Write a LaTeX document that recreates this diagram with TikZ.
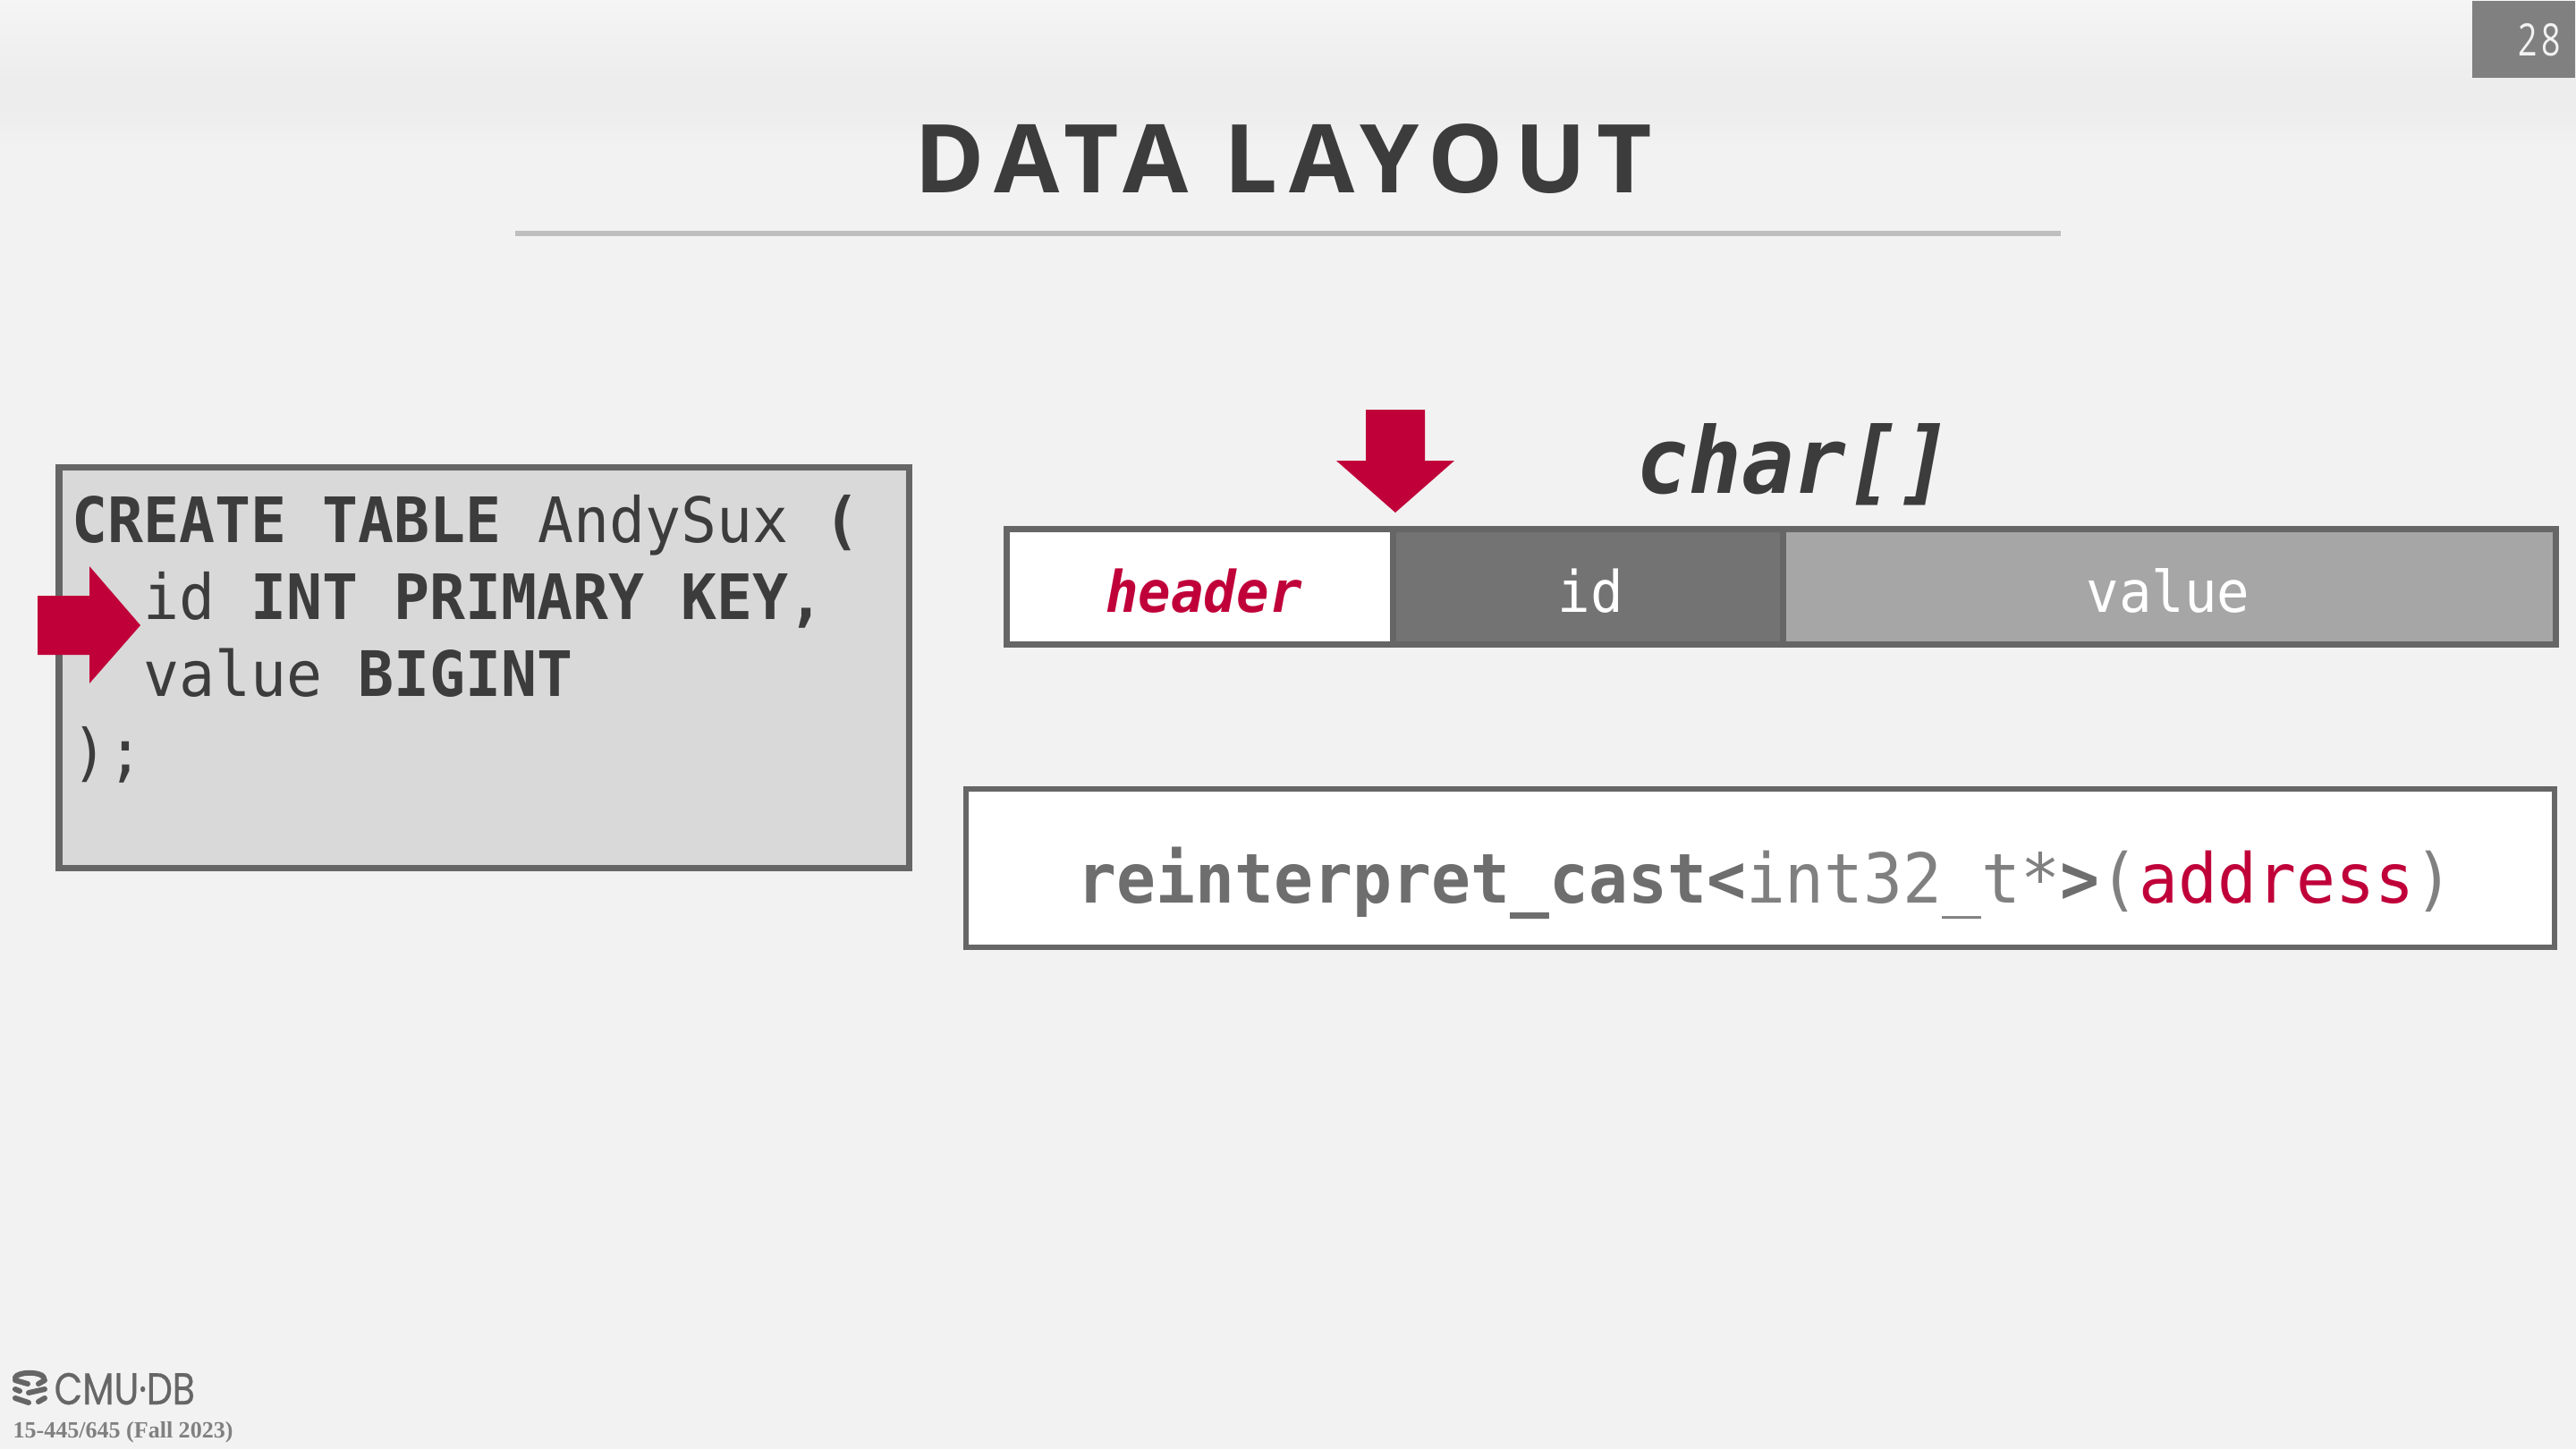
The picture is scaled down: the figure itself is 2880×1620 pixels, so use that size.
\documentclass[tikz,border=0pt]{standalone}
\usepackage{fontspec}
\setmainfont{Open Sans}
\newfontfamily\codefont[FakeStretch=0.95]{DejaVu Sans Mono}
\newfontfamily\titlefont[LetterSpace=11.5]{Open Sans}
\newfontfamily\pagefont[FakeStretch=0.75,LetterSpace=10]{Open Sans}
\newfontfamily\footfont{Liberation Serif}
\newfontfamily\logofont[FakeStretch=0.82,FakeBold=0.5]{Poppins}
\definecolor{slidebg}{HTML}{F2F2F2}
\definecolor{crimson}{HTML}{C00039}
\definecolor{ink}{HTML}{3C3C3C}
\definecolor{edge}{HTML}{666666}
\definecolor{castgray}{HTML}{6E6E6E}
\tikzset{
  x=0.01cm, y=-0.01cm,
  codeline/.style={anchor=base west, inner sep=0pt, text=ink, font=\codefont\fontsize{19.9}{24}\selectfont},
  cell/.style={draw=edge, line width=0.07cm},
  celltext/.style={anchor=base, inner sep=0pt, text=white, font=\codefont\fontsize{18.2}{22}\selectfont},
  pointer/.style={fill=crimson, draw=none},
}
\newcommand{\kw}[1]{\textbf{#1}}
\begin{document}
\begin{tikzpicture}
\useasboundingbox (0,0) rectangle (2880,1620);
\fill[slidebg] (0,0) rectangle (2880,1620);
\shade[top color=black!4, bottom color=black!7] (0,0) rectangle (2880,90);
\fill[black!7] (0,90) rectangle (2880,130);
\shade[top color=black!7, bottom color=slidebg] (0,130) rectangle (2880,165);

% title and page number
\node[anchor=base, inner sep=0pt, text=ink, font=\titlefont\fontsize{30.2}{36}\selectfont\bfseries] (title) at (1435,215) {DATA LAYOUT};
\fill[black!25] (576,258) rectangle (2304,264);
\node[fill=black!50, anchor=north east, minimum width=1.15cm, minimum height=0.86cm, inner sep=0pt] (pagebox) at (2880,0) {};
\node[anchor=base east, inner sep=0pt, text=slidebg, font=\pagefont\fontsize{14.2}{17}\selectfont] (pageno) at (2864,62) {28};

% table definition
\draw[cell, fill=black!15] (66,522) rectangle (1016,970);
\node[codeline] (sql1) at (80,606) {\kw{CREATE TABLE} AndySux \kw{(}};
\node[codeline] (sql2) at (160,692) {id \kw{INT PRIMARY KEY,}};
\node[codeline] (sql3) at (160,778) {value \kw{BIGINT}};
\node[codeline] (sql4) at (80,865) {);};
\fill[pointer] (42,666) -- (100,666) -- (100,633) -- (157,699) -- (100,764) -- (100,732) -- (42,732) -- cycle;

% the tuple as bytes
\fill[pointer] (1527,458) -- (1593,458) -- (1593,515) -- (1626,515) -- (1560,573) -- (1494,515) -- (1527,515) -- cycle;
\node[anchor=base, inner sep=0pt, text=ink, font=\codefont\fontsize{29.2}{35}\selectfont\bfseries\itshape] (chars) at (2006,551) {char[]};
\draw[cell, fill=white] (1125,591) rectangle (1557,720);
\draw[cell, fill=black!55] (1557,591) rectangle (1993,720);
\draw[cell, fill=black!35] (1993,591) rectangle (2857,720);
\node[celltext, text=crimson, font=\codefont\fontsize{18.2}{22}\selectfont\bfseries\itshape] (header) at (1346,684) {header};
\node[celltext] (id) at (1778,684) {id};
\node[celltext] (value) at (2424,684) {value};

% cast
\draw[cell, fill=white, line width=0.06cm] (1080,882) rectangle (2856,1059);
\node[anchor=base, inner sep=0pt, text=black!50, font=\codefont\fontsize{21.85}{26}\selectfont] (cast) at (1974,1009)
  {\textcolor{castgray}{\kw{reinterpret\_cast<}}int32\_t*\textcolor{castgray}{\kw{>}}(\textcolor{crimson}{address})};

% footer
\begin{scope}[edge, line width=0.06cm, line cap=round]
\draw (17,1540) .. controls (20,1533) and (46,1533) .. (49,1540);
\draw (17,1543) -- (31,1547);
\draw (43,1547) -- (50,1543);
\draw (17,1553) -- (22,1555);
\draw (32,1557) -- (50,1553);
\draw (17,1563) -- (32,1568);
\draw (43,1567) -- (50,1563);
\end{scope}
\node[anchor=base west, inner sep=0pt, text=edge, font=\logofont\fontsize{14.2}{17}\selectfont] (logo) at (60,1570) {CMU·DB};
\node[anchor=base west, inner sep=0pt, text=black!50, font=\footfont\fontsize{7.4}{9}\selectfont\bfseries] (course) at (14,1607) {15-445/645 (Fall 2023)};
\end{tikzpicture}
\end{document}
